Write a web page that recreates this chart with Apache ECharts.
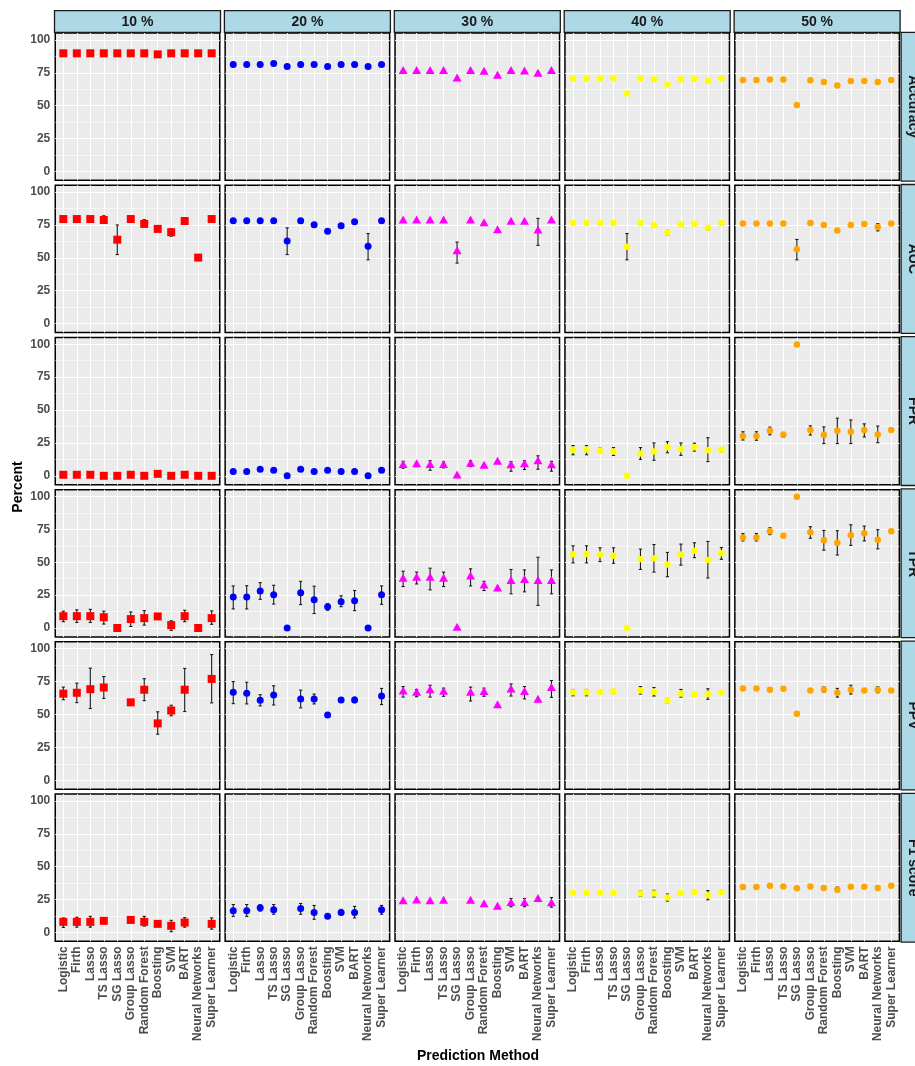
<!DOCTYPE html>
<html><head><meta charset="utf-8">
<script src="https://cdn.jsdelivr.net/npm/echarts@6/dist/echarts.min.js"></script>
<style>html,body{margin:0;padding:0;background:#fff}#c{width:915px;height:1066px}</style>
</head><body><div id="c"></div>
<script>
const methods = ['Logistic','Firth','Lasso','TS Lasso','SG Lasso','Group Lasso','Random Forest','Boosting','SVM','BART','Neural Networks','Super Learner'];
const rates = ['10 %','20 %','30 %','40 %','50 %'];
const metrics = ['Accuracy','AUC','FPR','TPR','PPV','F1 score'];
const yTicks = [0,25,50,75,100];
const yMinor = [12.5,37.5,62.5,87.5];

// one row per rate (10%..50%), one value per method
const accuracy = [
  [89.8,89.8,89.8,89.8,89.8,89.8,89.8,89,89.8,89.8,89.8,89.8],
  [81.2,81.2,81.2,82,79.8,81.2,81.2,79.8,81.2,81.2,79.8,81.2],
  [76.2,76.2,76.2,76.2,70.5,76.2,75.5,72.5,76.2,75.8,74,76.2],
  [70.8,70.8,70.8,70.8,59.2,70.8,70,66,70,70.5,69,70.8],
  [69.5,69.5,69.8,69.8,50.5,69.3,68,65.3,68.8,68.8,68,69.5]
];
const auc = [
  [79.5,79.5,79.5,78.8,63.8,79.5,75.8,72,69.5,78,50.2,79.5],
  [78.2,78.2,78.2,78.2,62.8,78.2,75.2,70.2,74.5,77.5,58.8,78.2],
  [78.2,78.2,78.2,78.2,54.8,78.2,76,70.8,77.2,77.2,70.5,78.2],
  [76.5,76.5,76.5,76.5,58.5,76.5,74.8,69.2,75.2,76,72.8,76.5],
  [76.2,76.2,76.2,76.2,56.5,76.5,75,70.8,75,75.8,73.5,76.2]
];
const fpr = [
  [0.8,0.8,0.8,0,0,0.8,0,1.5,0,0.8,0,0],
  [3.2,3.2,5,4.2,0,5,3.2,4.2,3.2,3.2,0,4.2],
  [8,8.5,8,8,0,9,7.5,10.5,7.8,8.5,10.8,7.8],
  [19.8,20,18.8,18.5,0,17,18.5,21.8,20.2,21.8,19.5,19.8],
  [30.2,30.2,34.2,31.2,99.8,34.8,31,34.2,33.5,34.8,31.5,34.8]
];
const tpr = [
  [9,9,9,8.2,0,6.8,7.5,8.8,2.2,9,0,7.5],
  [23.5,23.5,28.2,25.2,0,26.8,21.5,16.2,20,20.8,0,25.2],
  [37.2,38,38,37.2,0,39,32,29.8,35.5,36.2,35.5,35.5],
  [56,56.2,55.8,55,0,52.2,53,48.2,55.8,58.8,51.8,56.8],
  [68.8,68.8,73.5,70.2,99.8,72.8,66.8,64.8,70.5,72,67.2,73.5]
];
const ppv = [
  [65.8,66.5,69.2,70.5,null,59.2,68.8,43.2,53,68.8,null,77],
  [66.8,66.2,60.8,64.8,null,61.8,61.8,49.5,61,61,null,64],
  [67.2,66.2,68.2,67,null,66.2,66.8,56.8,68.8,66.8,61,69.8],
  [66.8,66.8,67,67.5,null,68.2,67.2,60.5,66,65.2,65.5,66.5],
  [69.8,69.8,68.8,69.5,50.5,68.2,69,66.5,68.8,68.2,68.8,68.2]
];
const f1 = [
  [8,8,8,8.8,null,9.5,8,6.5,5,7.5,null,6.5],
  [16.5,16.5,18.8,17.2,null,18.2,15.2,12.2,15.2,15.2,null,17.2],
  [23.5,24,23.5,23.8,null,23.8,21.2,19.2,22.2,22.2,25.2,22],
  [30.2,30.2,30.2,30.2,null,29.5,29.5,26.5,30,30.8,28.2,30.5],
  [34.5,34.5,35.5,35,33.5,35,33.8,32.5,34.8,34.8,33.8,35.5]
];

// error bars: [rateIndex, methodIndex, low, high]
const accuracyErr = [[2,10,73,75.5],[3,5,70,71.5],[3,7,65,67],[3,10,68,70.5]];
const aucErr = [[0,3,76.5,82],[0,4,52.5,75],[0,6,73.5,79],[0,8,66.5,72],[1,4,52.5,72.8],[1,10,48.5,68.5],
  [2,4,46,62],[2,10,59.5,80],[3,4,48.5,68.5],[3,7,67.5,71],[3,10,71,74.5],[4,4,48.5,64],[4,10,70.5,76]];
const fprErr = [[2,0,5.8,11],[2,1,7,10],[2,2,4.2,11.5],[2,3,6,10.5],[2,5,7,11.5],[2,8,3.5,10.8],[2,9,4.8,11.5],[2,10,5,15.2],[2,11,3.5,11],
  [3,0,16,23],[3,1,16,23],[3,2,17,21],[3,3,15.5,21.5],[3,5,12.5,21.5],[3,6,11.8,25],[3,7,17.5,26],[3,8,15.5,25],[3,9,18.8,24.8],[3,10,10.8,29],[3,11,18,21.5],
  [4,0,27.2,33.5],[4,1,27,33.5],[4,2,31.2,37],[4,3,29.5,33],[4,5,31,38],[4,6,24.5,37.2],[4,7,24.5,43.8],[4,8,24.5,42.5],[4,9,29.5,39.5],[4,10,25.2,37.8],[4,11,33.5,36]];
const tprErr = [[0,0,4.8,12.8],[0,1,4.2,13.8],[0,2,4.2,14.2],[0,3,3,12.8],[0,5,1.2,12.2],[0,6,2.2,13.2],[0,7,7.5,10],[0,8,-1.8,5.5],[0,9,4.8,13.5],[0,11,2.8,13],
  [1,0,14.5,32],[1,1,14.5,32.2],[1,2,21.8,34.5],[1,3,18.2,32.5],[1,5,17.8,35.5],[1,6,11,31.8],[1,7,13.5,18.5],[1,8,16.2,24.5],[1,9,13.2,28.5],[1,11,18,32],
  [2,0,31.5,43.2],[2,1,33.5,42.5],[2,2,29,45.5],[2,3,31.5,42.5],[2,5,32,45],[2,6,28.5,35.5],[2,7,28.5,31],[2,8,26,44.5],[2,9,27.5,44.2],[2,10,17.2,53.8],[2,11,26,44.2],
  [3,0,49.5,62.5],[3,1,49.5,62.5],[3,2,50.5,61],[3,3,49.2,61],[3,5,44.5,60],[3,6,42.5,63.5],[3,7,39,57.5],[3,8,47.8,63.8],[3,9,53.5,64.8],[3,10,38,65.8],[3,11,52.2,61.2],
  [4,0,66.2,71.8],[4,1,66.2,71.8],[4,2,71,76.2],[4,3,69,71.5],[4,5,68.2,77],[4,6,59.2,74.2],[4,7,55.5,74],[4,8,62.8,78.5],[4,9,66.2,77.5],[4,10,60.2,74.8],[4,11,72.5,74.5]];
const ppvErr = [[0,0,61.2,70.8],[0,1,59,73.8],[0,2,54.5,85.2],[0,3,62.2,78.8],[0,6,60.5,77.2],[0,7,35,52],[0,8,49,57],[0,9,52.2,85],[0,11,58.8,95.5],
  [1,0,58.2,75],[1,1,58,74.5],[1,2,56.5,65],[1,3,57.2,71.8],[1,5,55,68.5],[1,6,58,65.5],[1,7,48,51.5],[1,9,59,63.2],[1,11,57.5,69.8],
  [2,0,63.2,71.2],[2,1,63.5,69],[2,2,63.2,72.2],[2,3,63.8,70],[2,5,60.2,70.8],[2,6,63.8,70],[2,8,64,73.2],[2,9,61.8,71.2],[2,11,63,75.8],
  [3,0,64.2,69],[3,1,64.2,69],[3,3,65.8,69],[3,5,65.5,71.2],[3,6,64,70.5],[3,7,58.5,62.2],[3,8,63.2,69],[3,10,61.5,69.5],
  [4,6,67,71],[4,7,63.2,69.8],[4,8,65.5,72.2],[4,10,66.5,71]];
const f1Err = [[0,0,3.8,11],[0,1,4,11.5],[0,2,4,12.2],[0,6,4.8,12.2],[0,8,0.5,9.2],[0,9,4,11.2],[0,11,2.5,11],
  [1,0,12.2,21.2],[1,1,12.2,21.2],[1,2,16.2,21],[1,3,13.8,21.2],[1,5,13.8,22],[1,6,10,20.5],[1,8,13.5,17.5],[1,9,11,19.8],[1,11,13.8,20.5],
  [2,8,19.5,25.8],[2,9,19.5,25.8],[2,11,19.2,26.5],
  [3,5,27.5,31.5],[3,6,27,32],[3,7,23.8,29.2],[3,10,24.8,31.8],
  [4,7,30.8,34.5]];

const metricValues = [accuracy, auc, fpr, tpr, ppv, f1];
const metricErrs = [accuracyErr, aucErr, fprErr, tprErr, ppvErr, f1Err];

// styles
const colors = ['#FF0000','#0000FF','#FF00FF','#FFFF00','#FFA500'];
const shapes = ['rect','circle','triangle','circle','circle'];
const sizes = [[8,8],[7,7],[9,8],[6.5,6.5],[6.5,6.5]];
const offsets = [[0,0],[0,0],[0,-1.3],[0,0],[0,0]];
const FONT = '"Liberation Sans", Arial, sans-serif';

// layout
const COL_X0 = 54.5, COL_STEP = 169.9, PW = 166;
const ROW_Y0 = 32.3, ROW_STEP = 152.2, PH = 148.8;
const YMIN = -6.8, YMAX = 105.2, XMIN = -0.6, XMAX = 11.6;

const grid = [], xAxis = [], yAxis = [], series = [], graphic = [];
const idxs = methods.map((_, i) => i);

for (let r = 0; r < metrics.length; r++) {
  for (let c = 0; c < rates.length; c++) {
    const g = r * rates.length + c;
    const x0 = COL_X0 + c * COL_STEP, y0 = ROW_Y0 + r * ROW_STEP;
    grid.push({left: x0 + 0.75, top: y0 + 0.75, width: PW - 1.5, height: PH - 1.5,
      show: true, backgroundColor: '#EBEBEB', borderColor: '#000', borderWidth: 1.5});
    xAxis.push({type: 'value', gridIndex: g, min: XMIN, max: XMAX,
      axisLine: {show: false}, splitLine: {show: false},
      axisTick: {show: r === metrics.length - 1, customValues: idxs, length: 3, lineStyle: {color: '#333', width: 1}},
      axisLabel: {show: r === metrics.length - 1, customValues: idxs, rotate: 90, margin: 5,
        formatter: v => methods[Math.round(v)], color: '#4D4D4D', fontWeight: 'bold', fontSize: 12, fontFamily: FONT}});
    yAxis.push({type: 'value', gridIndex: g, min: YMIN, max: YMAX,
      axisLine: {show: false}, splitLine: {show: false},
      axisTick: {show: c === 0, customValues: yTicks, length: 3, lineStyle: {color: '#333', width: 1}},
      axisLabel: {show: c === 0, customValues: yTicks, margin: 5,
        color: '#4D4D4D', fontWeight: 'bold', fontSize: 12, fontFamily: FONT}});

    // grid lines
    const ml = [];
    yTicks.forEach(v => ml.push({yAxis: v, lineStyle: {color: '#fff', width: 1.1, type: 'solid'}}));
    yMinor.forEach(v => ml.push({yAxis: v, lineStyle: {color: '#fff', width: 0.55, type: 'solid'}}));
    idxs.forEach(v => ml.push({xAxis: v, lineStyle: {color: '#fff', width: 1.1, type: 'solid'}}));
    series.push({type: 'scatter', xAxisIndex: g, yAxisIndex: g, data: [], silent: true, z: 1,
      markLine: {silent: true, z: 1, symbol: ['none', 'none'], label: {show: false}, animation: false, data: ml}});

    // error bars
    const errs = metricErrs[r].filter(e => e[0] === c).map(e => [e[1], e[2], e[3]]);
    series.push({type: 'custom', xAxisIndex: g, yAxisIndex: g, z: 2, silent: true, data: errs,
      encode: {x: 0, y: [1, 2]},
      renderItem: (params, api) => {
        const x = api.value(0), lo = api.value(1), hi = api.value(2);
        const t = api.coord([x, hi]), b = api.coord([x, lo]);
        const hw = 1.6;
        const style = {stroke: '#1a1a1a', lineWidth: 1.1};
        return {type: 'group', children: [
          {type: 'line', shape: {x1: t[0], y1: t[1], x2: b[0], y2: b[1]}, style},
          {type: 'line', shape: {x1: t[0] - hw, y1: t[1], x2: t[0] + hw, y2: t[1]}, style},
          {type: 'line', shape: {x1: b[0] - hw, y1: b[1], x2: b[0] + hw, y2: b[1]}, style}
        ]};
      }});

    // points
    const vals = metricValues[r][c];
    const pts = [];
    vals.forEach((v, i) => { if (v !== null) pts.push([i, v]); });
    series.push({type: 'scatter', xAxisIndex: g, yAxisIndex: g, z: 3, silent: true, data: pts,
      symbol: shapes[c], symbolSize: sizes[c], symbolOffset: offsets[c],
      itemStyle: {color: colors[c], opacity: 1}});
  }
}

// top strips
rates.forEach((t, c) => {
  const x0 = COL_X0 + c * COL_STEP;
  graphic.push({type: 'rect', shape: {x: x0, y: 10.7, width: PW, height: 21.6},
    style: {fill: '#ADD8E6', stroke: '#1a1a1a', lineWidth: 1.3}, z: 10});
  graphic.push({type: 'text', x: x0 + PW / 2, y: 21.8, z: 11,
    style: {text: t, align: 'center', verticalAlign: 'middle', font: 'bold 14px ' + FONT, fill: '#1A1A1A'}});
});
// right strips
metrics.forEach((t, r) => {
  const y0 = ROW_Y0 + r * ROW_STEP;
  const xs = COL_X0 + 4 * COL_STEP + PW + 1;
  graphic.push({type: 'rect', shape: {x: xs, y: y0, width: 22, height: PH},
    style: {fill: '#ADD8E6', stroke: '#1a1a1a', lineWidth: 1.3}, z: 10});
  graphic.push({type: 'text', x: xs + 11.5, y: y0 + PH / 2, rotation: -Math.PI / 2, z: 11,
    style: {text: t, align: 'center', verticalAlign: 'middle', font: 'bold 14px ' + FONT, fill: '#1A1A1A'}});
});
graphic.push({type: 'text', x: 18, y: 487, rotation: Math.PI / 2, z: 11,
  style: {text: 'Percent', align: 'center', verticalAlign: 'middle', font: 'bold 14px ' + FONT, fill: '#000'}});
graphic.push({type: 'text', x: 478, y: 1056, z: 11,
  style: {text: 'Prediction Method', align: 'center', verticalAlign: 'middle', font: 'bold 14px ' + FONT, fill: '#000'}});

const chart = echarts.init(document.getElementById('c'), null, {renderer: 'canvas'});
chart.setOption({animation: false, backgroundColor: '#fff', textStyle: {fontFamily: FONT},
  grid, xAxis, yAxis, series, graphic});
</script></body></html>
